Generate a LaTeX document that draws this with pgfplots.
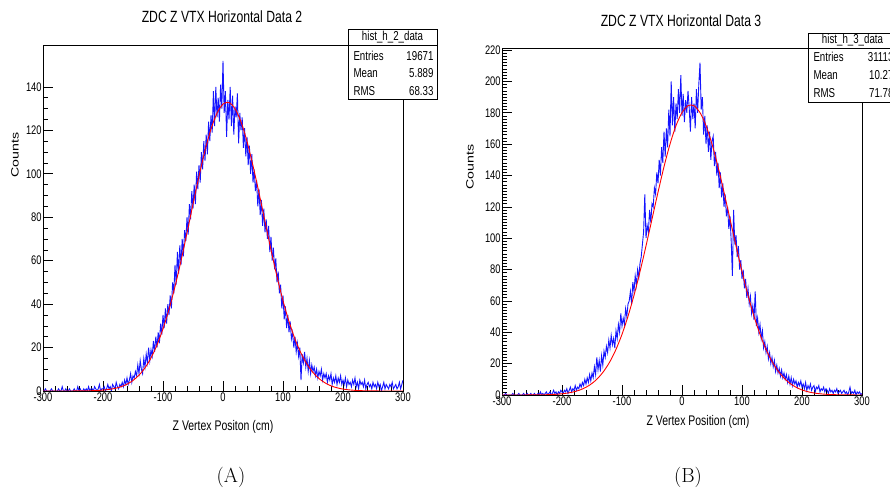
\documentclass[border=0pt]{standalone}
\usepackage{graphicx}
\usepackage{fontspec}
\usepackage{pgfplots}
\pgfplotsset{compat=1.18}
\newfontfamily\rootfont[FakeStretch=0.75]{Liberation Sans}
\newfontfamily\rootfontN{Liberation Sans}
\definecolor{rootblue}{RGB}{20,20,255}
\definecolor{rootred}{RGB}{255,0,0}
\pgfplotsset{
  rootaxis/.style={
    anchor=south west, scale only axis,
    xmin=-300, xmax=300, ymin=0,
    axis line style={black, line width=0.7pt},
    tick align=inside, tick pos=left,
    major tick length=10bp, minor tick length=5bp,
    tick style={black, line width=0.6pt},
    xtick={-300,-200,-100,0,100,200,300},
    xticklabels={-300,-200,-100,0,100,200,300},
    minor x tick num=4,
    ticklabel style={font=\rootfont\fontsize{12.5}{12.5}\selectfont},
    xticklabel style={inner sep=1.2pt},
    yticklabel style={inner sep=1.2pt},
  },
}
\begin{document}
\begin{tikzpicture}
\path[use as bounding box] (0bp,0bp) rectangle (890bp,491bp);
% ---------------- Panel A ----------------
\begin{axis}[rootaxis, at={(43bp,100bp)}, width=360bp, height=346bp, ymax=159.3,
  ytick={0,20,40,60,80,100,120,140},
  yticklabels={0,20,40,60,80,100,120,140},
  minor y tick num=3]
\addplot[rootblue, line width=0.9pt] coordinates {
(-300,0)(-298,0)(-296,1)(-294,0)(-292,0)(-290,0)(-288,0)(-286,1)(-284,0)(-282,0)(-280,0)(-278,0)(-276,0)(-274,1)(-272,0)(-270,0)(-268,2)(-266,0)(-264,0)(-262,1)(-260,0)(-258,0)(-256,1)(-254,0)(-252,0)(-250,0)(-248,1)(-246,0)(-244,0)(-242,2)(-240,0)(-238,1)(-236,0)(-234,0)(-232,1)
(-230,0)(-228,1)(-226,0)(-224,2)(-222,0)(-220,1)(-218,1)(-216,0)(-214,2)(-212,1)(-210,0)(-208,1)(-206,3)(-204,0)(-202,1)(-200,1)
(-198,2)(-196,0)(-194,1)(-192,3)(-190,1)(-188,2)(-186,0)(-184,3)(-182,2)(-180,1)(-178,4)(-176,2)(-174,1)(-172,3)(-170,2)
(-168,4)(-166,2)(-164,5)(-162,3)(-160,6)(-158,3)(-156,5)(-154,8)(-152,4)(-150,7)
(-148,6)(-146,9)(-144,7)(-142,12)(-140,8)(-138,14)(-136,10)(-134,8)(-132,15)(-130,11)
(-128,17)(-126,13)(-124,20)(-122,14)(-120,19)(-118,16)(-116,23)(-114,18)(-112,25)(-110,20)
(-108,27)(-106,22)(-104,31)(-102,26)(-100,35)(-98,29)(-96,38)(-94,31)(-92,40)(-90,35)
(-88,44)(-86,38)(-84,50)(-82,45)(-80,58)(-78,49)(-76,64)(-74,54)(-72,67)(-70,58)
(-68,70)(-66,62)(-64,74)(-62,69)(-60,80)(-58,72)(-56,86)(-54,79)(-52,92)(-50,84)
(-48,95)(-46,86)(-44,101)(-42,93)(-40,104)(-38,96)(-36,110)(-34,102)(-32,115)(-30,106)
(-28,118)(-26,109)(-24,124)(-22,115)(-20,127)(-18,119)(-16,138)(-14,122)(-12,140)(-10,126)
(-8,135)(-6,124)(-4,141)(-2,130)(0,152)(2,128)(4,138)(6,117)(8,134)(10,125)
(12,140)(14,122)(16,136)(18,118)(20,131)(22,126)(24,137)(26,114)(28,128)(30,120)
(32,126)(34,112)(36,121)(38,108)(40,117)(42,104)(44,113)(46,100)(48,109)(50,96)
(52,102)(54,92)(56,97)(58,85)(60,93)(62,81)(64,88)(66,76)(68,84)(70,73)
(72,79)(74,70)(76,76)(78,64)(80,71)(82,60)(84,66)(86,56)(88,61)(90,50)
(92,55)(94,45)(96,49)(98,38)(100,44)(102,33)(104,39)(106,29)(108,35)(110,27)
(112,32)(114,24)(116,27)(118,20)(120,25)(122,18)(124,22)(126,16)(128,20)(130,5)
(132,17)(134,13)(136,18)(138,11)(140,15)(142,9)(144,14)(146,8)(148,12)(150,9)
(152,11)(154,7)(156,10)(158,6)(160,9)(162,7)(164,10)(166,5)(168,8)(170,6)
(172,8)(174,4)(176,7)(178,5)(180,8)(182,3)(184,6)(186,4)(188,7)(190,3)(192,6)(194,4)(196,7)(198,3)(200,5)
(202,3)(204,6)(206,2)(208,5)(210,3)(212,4)(214,2)(216,5)(218,3)(220,6)(222,2)(224,4)(226,1)(228,5)(230,3)(232,4)(234,2)(236,5)(238,1)(240,3)
(242,4)(244,2)(246,3)(248,1)(250,4)(252,2)(254,3)(256,1)(258,4)(260,2)(262,3)(264,0)(266,2)(268,4)(270,1)(272,3)(274,2)(276,1)(278,3)(280,2)
(282,4)(284,1)(286,2)(288,3)(290,1)(292,2)(294,4)(296,1)(298,3)(300,5)
};
\addplot[rootred, line width=0.9pt, smooth] coordinates {
(-300,0)(-280,0)(-260,0.01)(-240,0.04)(-230,0.07)(-220,0.13)(-210,0.24)(-200,0.42)(-190,0.72)(-180,1.21)(-170,1.97)(-160,3.13)(-150,4.85)(-140,7.29)(-130,10.68)(-120,15.2)(-110,21.2)(-100,28.6)(-90,37.6)(-80,48.1)(-70,59.9)(-60,72.8)(-50,86.0)(-40,98.9)(-30,110.7)(-20,120.6)(-10,127.9)(0,132.1)(10,132.8)(20,130.0)(30,123.9)(40,114.9)(50,103.7)(60,91.2)(70,78.0)(80,65.0)(90,52.7)(100,41.6)(110,32.0)(120,23.9)(130,17.4)(140,12.3)(150,8.52)(160,5.72)(170,3.75)(180,2.38)(190,1.48)(200,0.89)(210,0.52)(220,0.30)(230,0.16)(240,0.08)(250,0.04)(270,0.01)(300,0)
};
\end{axis}
% ---------------- Panel B ----------------
\begin{axis}[rootaxis, at={(502bp,96bp)}, width=360bp, height=347bp, ymax=221.3,
  ytick={0,20,40,60,80,100,120,140,160,180,200,220},
  yticklabels={0,20,40,60,80,100,120,140,160,180,200,220},
  minor y tick num=9]
\addplot[rootblue, line width=0.9pt] coordinates {
(-300,0)(-298,0)(-296,0)(-294,1)(-292,0)(-290,0)(-288,0)(-286,0)(-284,0)(-282,1)(-280,0)(-278,0)(-276,0)(-274,0)(-272,1)(-270,0)(-268,0)(-266,0)(-264,1)(-262,0)(-260,0)(-258,1)(-256,0)(-254,0)(-252,1)(-250,0)(-248,0)(-246,1)(-244,0)(-242,0)(-240,1)(-238,0)(-236,2)(-234,0)(-232,1)
(-230,0)(-228,1)(-226,2)(-224,0)(-222,1)(-220,2)(-218,0)(-216,1)(-214,3)(-212,1)(-210,2)(-208,0)(-206,2)(-204,1)(-202,3)(-200,2)
(-198,1)(-196,3)(-194,2)(-192,4)(-190,1)(-188,3)(-186,5)(-184,2)(-182,4)(-180,3)(-178,6)(-176,3)(-174,5)(-172,4)(-170,7)
(-168,5)(-166,8)(-164,6)(-162,10)(-160,7)(-158,11)(-156,8)(-154,13)(-152,9)(-150,14)
(-148,11)(-146,18)(-144,13)(-142,24)(-140,16)(-138,22)(-136,15)(-134,25)(-132,19)(-130,28)
(-128,24)(-126,31)(-124,27)(-122,35)(-120,30)(-118,38)(-116,32)(-114,36)(-112,30)(-110,41)
(-108,36)(-106,45)(-104,40)(-102,52)(-100,44)(-98,49)(-96,45)(-94,55)(-92,50)(-90,58)
(-88,60)(-86,66)(-84,58)(-82,72)(-80,66)(-78,76)(-76,70)(-74,80)(-72,75)(-70,84)
(-68,88)(-66,96)(-64,104)(-62,128)(-60,100)(-58,108)(-56,104)(-54,118)(-52,110)(-50,122)
(-48,120)(-46,132)(-44,128)(-42,142)(-40,135)(-38,150)(-36,140)(-34,158)(-32,148)(-30,168)
(-28,152)(-26,170)(-24,158)(-22,182)(-20,165)(-18,200)(-16,172)(-14,190)(-12,168)(-10,186)
(-8,176)(-6,195)(-4,180)(-2,204)(0,178)(2,192)(4,174)(6,188)(8,180)(10,194)
(12,183)(14,168)(16,190)(18,176)(20,186)(22,170)(24,195)(26,180)(28,198)(30,212)
(32,182)(34,190)(36,166)(38,178)(40,160)(42,172)(44,155)(46,168)(48,150)(50,162)
(52,165)(54,146)(56,155)(58,140)(60,148)(62,132)(64,142)(66,126)(68,135)(70,120)
(72,128)(74,114)(76,120)(78,106)(80,114)(82,98)(84,76)(86,118)(88,96)(90,102)
(92,88)(94,95)(96,80)(98,86)(100,74)(102,80)(104,68)(106,74)(108,62)(110,68)
(112,58)(114,63)(116,52)(118,57)(120,48)(122,66)(124,44)(126,49)(128,40)(130,45)
(132,36)(134,41)(136,30)(138,34)(140,27)(142,31)(144,23)(146,27)(148,20)(150,24)
(152,18)(154,22)(156,15)(158,19)(160,14)(162,17)(164,12)(166,16)(168,11)(170,14)
(172,10)(174,13)(176,8)(178,12)(180,7)(182,11)(184,6)(186,10)(188,7)(190,9)(192,5)(194,8)(196,6)(198,9)(200,5)
(202,7)(204,4)(206,8)(208,3)(210,6)(212,4)(214,7)(216,3)(218,5)(220,6)(222,2)(224,5)(226,4)(228,6)(230,2)(232,4)(234,3)(236,5)(238,2)(240,4)
(242,3)(244,1)(246,4)(248,2)(250,3)(252,1)(254,3)(256,2)(258,4)(260,1)(262,2)(264,3)(266,1)(268,2)(270,3)(272,1)(274,2)(276,0)(278,2)(280,5)
(282,1)(284,2)(286,1)(288,3)(290,0)(292,2)(294,1)(296,2)(298,0)(300,1)
};
\addplot[rootred, line width=0.9pt, smooth] coordinates {
(-300,0)(-270,0.02)(-250,0.05)(-240,0.08)(-230,0.15)(-220,0.27)(-210,0.46)(-200,0.78)(-190,1.28)(-180,2.06)(-170,3.22)(-160,4.94)(-150,7.38)(-140,10.8)(-130,15.4)(-120,21.4)(-110,29.1)(-100,38.7)(-90,50.2)(-80,63.6)(-70,78.7)(-60,95.1)(-50,112.2)(-40,129.3)(-30,145.6)(-20,160.0)(-10,171.8)(0,180.1)(10,184.5)(20,184.5)(30,180.1)(40,171.8)(50,160.0)(60,145.6)(70,129.3)(80,112.2)(90,95.1)(100,78.7)(110,63.6)(120,50.2)(130,38.7)(140,29.1)(150,21.4)(160,15.4)(170,10.8)(180,7.38)(190,4.94)(200,3.22)(210,2.06)(220,1.28)(230,0.78)(240,0.46)(250,0.27)(260,0.15)(270,0.08)(280,0.05)(300,0.01)
};
\end{axis}
\begin{scope}[x=1bp,y=1bp]
% ---------------- Titles and labels ----------------
\node at (222,474) {\rootfont\fontsize{16.3}{16.3}\selectfont ZDC Z VTX Horizontal Data 2};
\node at (681,470) {\rootfont\fontsize{16.3}{16.3}\selectfont ZDC Z VTX Horizontal Data 3};
\node at (223,64) {\rootfont\fontsize{14}{14}\selectfont Z Vertex Positon (cm)};
\node at (698,69) {\rootfont\fontsize{14}{14}\selectfont Z Vertex Position (cm)};
\node at (15,336) {\scalebox{0.75}[1]{\rotatebox{90}{\rootfontN\fontsize{14.2}{14.2}\selectfont Counts}}};
\node at (470,324) {\scalebox{0.75}[1]{\rotatebox{90}{\rootfontN\fontsize{14.2}{14.2}\selectfont Counts}}};
\node at (231,13.5) {\fontsize{20.5}{20.5}\selectfont (A)};
\node at (688,13.5) {\fontsize{20.5}{20.5}\selectfont (B)};
% ---------------- Stats boxes ----------------
\draw[black, line width=0.7pt, fill=white] (348,462) rectangle (437,392);
\draw[black, line width=0.5pt] (348,446) -- (437,446);
\node at (392.5,454) {\rootfont\fontsize{13}{13}\selectfont hist\_h\_2\_data};
\node[anchor=west] at (350,435) {\rootfont\fontsize{13}{13}\selectfont Entries};
\node[anchor=west] at (350,418) {\rootfont\fontsize{13}{13}\selectfont Mean};
\node[anchor=west] at (350,400) {\rootfont\fontsize{13}{13}\selectfont RMS};
\node[anchor=east] at (437,435) {\rootfont\fontsize{13}{13}\selectfont 19671};
\node[anchor=east] at (437,418) {\rootfont\fontsize{13}{13}\selectfont 5.889};
\node[anchor=east] at (437,400) {\rootfont\fontsize{13}{13}\selectfont 68.33};
\draw[black, line width=0.7pt, fill=white] (808,458) rectangle (897,389);
\draw[black, line width=0.5pt] (808,443) -- (897,443);
\node at (852.5,450.5) {\rootfont\fontsize{13}{13}\selectfont hist\_h\_3\_data};
\node[anchor=west] at (810,434) {\rootfont\fontsize{13}{13}\selectfont Entries};
\node[anchor=west] at (810,416) {\rootfont\fontsize{13}{13}\selectfont Mean};
\node[anchor=west] at (810,398) {\rootfont\fontsize{13}{13}\selectfont RMS};
\node[anchor=east] at (897,434) {\rootfont\fontsize{13}{13}\selectfont 31113};
\node[anchor=east] at (897,416) {\rootfont\fontsize{13}{13}\selectfont 10.27};
\node[anchor=east] at (897,398) {\rootfont\fontsize{13}{13}\selectfont 71.78};
\end{scope}
\end{tikzpicture}
\end{document}
